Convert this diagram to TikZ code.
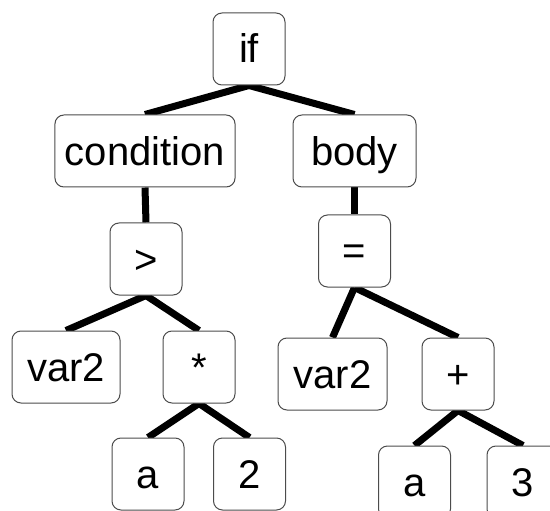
\documentclass[tikz,border=0pt]{standalone}
\usepackage{fontspec}
\setmainfont{Liberation Sans}
\usepackage{tikz}
\usetikzlibrary{backgrounds}

\begin{document}
\begin{tikzpicture}[x=1pt, y=-1pt,
    astnode/.style={draw=black!70, line width=1pt, fill=white, rounded corners=9pt,
      minimum width=72pt, minimum height=72pt, inner xsep=10pt,
      text height=34pt, text depth=6pt,
      font=\fontsize{40}{48}\selectfont},
    astedge/.style={line width=7pt}]
  \useasboundingbox (0,0) rectangle (550,511);

  % the tree, row by row
  \node [astnode] (if) at (249,49) {if};
  \node [astnode] (cond) at (145,151) {condition};
  \node [astnode, minimum width=123pt] (body) at (354.5,151) {body};
  \node [astnode] (gt) at (146,259) {>};
  \node [astnode] (eq) at (354.5,251) {=};
  \node [astnode, minimum width=108pt] (lvar) at (66,367) {var2};
  \node [astnode] (mul) at (199,367) {*};
  \node [astnode, minimum width=109pt] (rvar) at (332.5,374) {var2};
  \node [astnode] (plus) at (458,374) {+};
  \node [astnode] (la) at (148,474) {a};
  \node [astnode] (two) at (249.5,474) {2};
  \node [astnode] (ra) at (414.5,482) {a};
  \node [astnode] (three) at (523,482) {3};

  \begin{scope}[on background layer]
    \draw [astedge] (if.south) -- (cond.north);
    \draw [astedge] (if.south) -- (body.north);
    \draw [astedge] (cond.south) -- (gt.north);
    \draw [astedge] (body.south) -- (eq.north);
    \draw [astedge] (gt.south) -- (lvar.north);
    \draw [astedge] (gt.south) -- (mul.north);
    \draw [astedge] (mul.south) -- (la.north);
    \draw [astedge] (mul.south) -- (two.north);
    \draw [astedge] (eq.south) -- (rvar.north);
    \draw [astedge] (eq.south) -- (plus.north);
    \draw [astedge] (plus.south) -- (ra.north);
    \draw [astedge] (plus.south) -- (three.north);
  \end{scope}
\end{tikzpicture}
\end{document}
